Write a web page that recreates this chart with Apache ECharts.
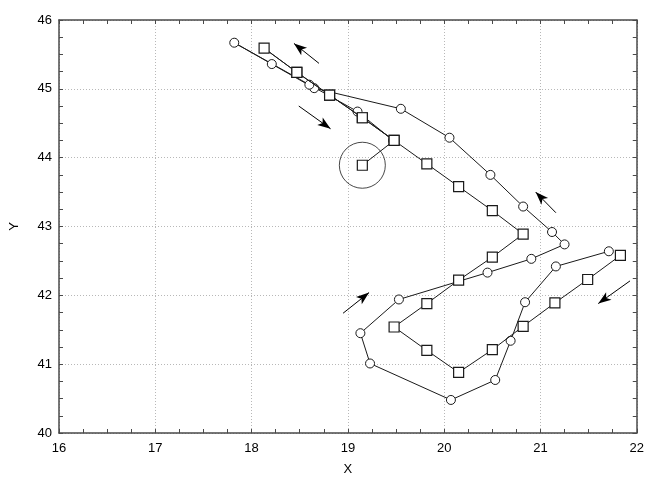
<!DOCTYPE html>
<html>
<head>
<meta charset="utf-8">
<script src="https://cdn.jsdelivr.net/npm/echarts@6/dist/echarts.min.js"></script>
<style>
  html, body { margin: 0; padding: 0; background: #ffffff; }
  #chart { width: 647px; height: 481px; }
</style>
</head>
<body>
<div id="chart"></div>
<script>
// Trajectory drawn with open circles
var circleX = [21.71, 21.16, 20.84, 20.69, 20.53, 20.07, 19.23, 19.13, 19.53, 20.45, 20.905, 21.25,
               21.12, 20.82, 20.48, 20.055, 19.55, 18.65, 18.21, 17.82, 18.60, 19.10, 19.47];
var circleY = [42.64, 42.42, 41.90, 41.34, 40.77, 40.48, 41.01, 41.45, 41.94, 42.33, 42.53, 42.74,
               42.92, 43.29, 43.75, 44.29, 44.71, 45.01, 45.36, 45.67, 45.06, 44.67, 44.25];

// Trajectory drawn with open squares (last point is the ringed one)
var squareX = [21.83, 21.49, 21.15, 20.82, 20.50, 20.15, 19.82, 19.48, 19.82, 20.15, 20.50, 20.82,
               20.50, 20.15, 19.82, 19.48, 19.15, 18.81, 18.47, 18.13, 18.47, 18.81, 19.15, 19.48, 19.15];
var squareY = [42.58, 42.23, 41.89, 41.55, 41.21, 40.88, 41.20, 41.54, 41.88, 42.22, 42.555, 42.89,
               43.23, 43.58, 43.91, 44.25, 44.58, 44.91, 45.24, 45.59, 45.24, 44.91, 44.58, 44.25, 43.89];

// Direction arrows: tail and head, in data units
var arrowFrom = [[18.70, 45.37], [18.49, 44.75], [21.16, 43.20], [21.93, 42.21], [18.95, 41.74]];
var arrowTo   = [[18.44, 45.66], [18.82, 44.42], [20.95, 43.50], [21.60, 41.88], [19.22, 42.04]];

// Axis ranges
var xMin = 16, xMax = 22, yMin = 40, yMax = 46;
var xTitle = 'X', yTitle = 'Y';

function pairs(xs, ys) {
  return xs.map(function (x, i) { return [x, ys[i]]; });
}

var FONT = 'Liberation Sans, Arial, sans-serif';
var FRAME = '#4a4a4a';

function frameAxis(extra) {
  var base = {
    type: 'value',
    axisLine: { show: true, onZero: false, lineStyle: { color: FRAME, width: 1.5 } },
    axisTick: { show: true, inside: true, length: 4, lineStyle: { color: FRAME } },
    minorTick: { show: true, splitNumber: 4, length: 4, lineStyle: { color: FRAME } },
    splitLine: { show: false },
    axisLabel: { show: false }
  };
  for (var k in extra) base[k] = extra[k];
  return base;
}

var chart = echarts.init(document.getElementById('chart'), null, { renderer: 'canvas' });

chart.setOption({
  animation: false,
  backgroundColor: '#ffffff',
  grid: { left: 55, top: 20, width: 584, height: 414, containLabel: false },
  xAxis: [
    frameAxis({
      min: xMin, max: xMax, interval: 1, position: 'bottom',
      name: xTitle, nameLocation: 'middle', nameGap: 30,
      nameTextStyle: { color: '#000', fontSize: 13, fontFamily: FONT },
      axisLabel: { show: true, color: '#000', fontSize: 13, fontFamily: FONT, margin: 9 },
      splitLine: { show: true, lineStyle: { color: '#b8b8b8', type: [1, 2], width: 1 } }
    }),
    frameAxis({ min: xMin, max: xMax, interval: 1, position: 'top' })
  ],
  yAxis: [
    frameAxis({
      min: yMin, max: yMax, interval: 1, position: 'left',
      name: yTitle, nameLocation: 'middle', nameGap: 38,
      nameTextStyle: { color: '#000', fontSize: 13, fontFamily: FONT },
      axisLabel: { show: true, color: '#000', fontSize: 13, fontFamily: FONT, margin: 7 },
      splitLine: { show: true, lineStyle: { color: '#b8b8b8', type: [1, 2], width: 1 } }
    }),
    frameAxis({ min: yMin, max: yMax, interval: 1, position: 'right' })
  ],
  series: [
    {
      type: 'line',
      name: 'circles',
      data: pairs(circleX, circleY),
      symbol: 'circle',
      symbolSize: 9,
      showAllSymbol: true,
      itemStyle: { color: '#ffffff', borderColor: '#1a1a1a', borderWidth: 1 },
      lineStyle: { color: '#1a1a1a', width: 1 },
      z: 3
    },
    {
      type: 'line',
      name: 'squares',
      data: pairs(squareX, squareY),
      symbol: 'rect',
      symbolSize: 10,
      showAllSymbol: true,
      itemStyle: { color: '#ffffff', borderColor: '#1a1a1a', borderWidth: 1.2 },
      lineStyle: { color: '#1a1a1a', width: 1 },
      z: 4
    },
    {
      // ring around the final square
      type: 'scatter',
      data: [[squareX[squareX.length - 1], squareY[squareY.length - 1]]],
      symbol: 'circle',
      symbolSize: 46,
      itemStyle: { color: 'rgba(0,0,0,0)', borderColor: '#1a1a1a', borderWidth: 1 },
      silent: true,
      z: 2
    },
    {
      // direction arrows
      type: 'line',
      data: [],
      markLine: {
        silent: true,
        symbol: ['none', 'arrow'],
        symbolSize: [7, 13],
        label: { show: false },
        lineStyle: { color: '#000', width: 1, type: 'solid' },
        emphasis: { disabled: true },
        data: arrowFrom.map(function (p, i) {
          return [{ coord: p }, { coord: arrowTo[i] }];
        })
      },
      z: 5
    }
  ]
});
</script>
</body>
</html>
